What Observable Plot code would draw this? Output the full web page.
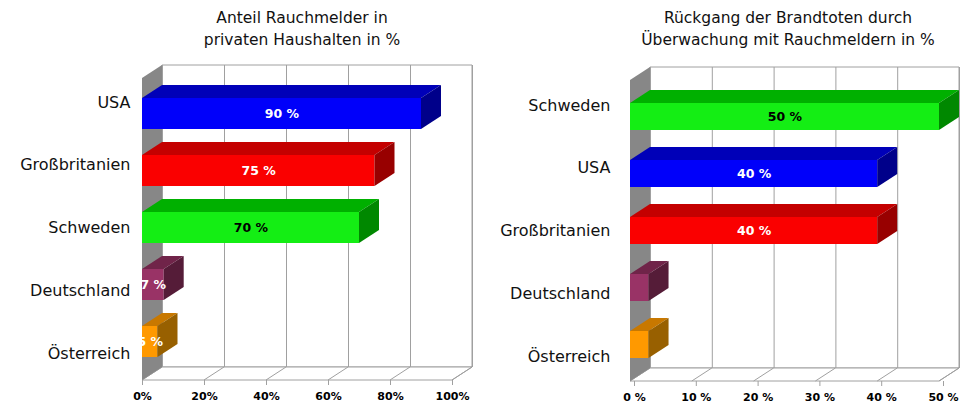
<!DOCTYPE html>
<html>
<head>
<meta charset="utf-8">
<script src="https://cdn.jsdelivr.net/npm/d3@7"></script>
<script src="https://cdn.jsdelivr.net/npm/@observablehq/plot@0.6"></script>
<style>
  body { margin: 0; background: #fff; }
  #wrap { display: flex; width: 962px; height: 407px; overflow: hidden; font-family: "DejaVu Sans", sans-serif; }
  .col { width: 481px; flex: none; }
  .title { height: 52px; box-sizing: border-box; padding-top: 7px; line-height: 22px; font-size: 15.5px; color: #111; text-align: center; white-space: nowrap; }
</style>
</head>
<body>
<div id="wrap">
  <div class="col" id="c1"><div class="title" style="padding-left:123px">Anteil Rauchmelder in<br>privaten Haushalten in %</div></div>
  <div class="col" id="c2"><div class="title" style="padding-left:133px">Rückgang der Brandtoten durch<br>Überwachung mit Rauchmeldern in %</div></div>
</div>
<script>
// ---- data ----
const leftCategories = ["USA", "Großbritanien", "Schweden", "Deutschland", "Österreich"];
const leftValues = [90, 75, 70, 7, 5];
const leftLabels = ["90 %", "75 %", "70 %", "7 %", "5 %"];
const leftTicks = [0, 20, 40, 60, 80, 100];
const leftTickLabels = ["0%", "20%", "40%", "60%", "80%", "100%"];

const rightCategories = ["Schweden", "USA", "Großbritanien", "Deutschland", "Österreich"];
const rightValues = [50, 40, 40, 3, 3];
const rightLabels = ["50 %", "40 %", "40 %", "", ""];
const rightTicks = [0, 10, 20, 30, 40, 50];
const rightTickLabels = ["0 %", "10 %", "20 %", "30 %", "40 %", "50 %"];

// ---- styles ----
const FRONT = {"USA": "#0000fa", "Großbritanien": "#fa0000", "Schweden": "#14ee14", "Deutschland": "#993366", "Österreich": "#ff9900"};
const TOP   = {"USA": "#0000b8", "Großbritanien": "#c40000", "Schweden": "#00b000", "Deutschland": "#702449", "Österreich": "#c87800"};
const SIDE  = {"USA": "#00008a", "Großbritanien": "#980000", "Schweden": "#008800", "Deutschland": "#551c38", "Österreich": "#986000"};
const TEXTC = {"USA": "#fff", "Großbritanien": "#fff", "Schweden": "#000", "Deutschland": "#fff", "Österreich": "#fff"};
const GRID = "#a0a0a0", WALL = "#878787";
const DX = 20, DY = 13;

const NS = "http://www.w3.org/2000/svg";
function poly(pts, fill, stroke) {
  const p = document.createElementNS(NS, "polygon");
  p.setAttribute("points", pts.map(q => q.join(",")).join(" "));
  p.setAttribute("fill", fill);
  if (stroke) { p.setAttribute("stroke", stroke); p.setAttribute("stroke-width", 1); }
  return p;
}
function seg(x1, y1, x2, y2, stroke) {
  const l = document.createElementNS(NS, "line");
  l.setAttribute("x1", x1); l.setAttribute("y1", y1); l.setAttribute("x2", x2); l.setAttribute("y2", y2);
  l.setAttribute("stroke", stroke);
  return l;
}

function chart(cfg) {
  const data = cfg.categories.map((c, i) => ({cat: c, value: cfg.values[i], label: cfg.labels[i]}));
  const xMax = cfg.ticks[cfg.ticks.length - 1];

  // walls + floor, computed from scales
  const scaffold = Plot.frame({
    render(index, scales, values, dim) {
      const g = document.createElementNS(NS, "g");
      const x0 = scales.x(0), x1 = scales.x(xMax);
      const yT = dim.marginTop, yB = dim.height - dim.marginBottom;
      g.append(poly([[x0 + DX, yT - DY], [x1 + DX, yT - DY], [x1 + DX, yB - DY], [x0 + DX, yB - DY]], "#fff", GRID));
      g.append(poly([[x0, yB], [x1, yB], [x1 + DX, yB - DY], [x0 + DX, yB - DY]], "#fff", GRID));
      for (const t of cfg.ticks) g.append(seg(scales.x(t), yB, scales.x(t) + DX, yB - DY, GRID));
      g.append(poly([[x0, yT], [x0 + DX, yT - DY], [x0 + DX, yB - DY], [x0, yB]], WALL));
      return g;
    }
  });

  const bars = Plot.barX(data, {
    x: "value", y: "cat", fill: d => FRONT[d.cat],
    render(index, scales, values, dim, ctx, next) {
      const g = next(index, scales, values, dim, ctx);
      const bw = scales.y.bandwidth();
      for (const i of index) {
        const d = data[i];
        const xa = scales.x(0), xb = scales.x(d.value), ya = scales.y(d.cat), yb = ya + bw;
        g.append(poly([[xa, ya], [xb, ya], [xb + DX, ya - DY], [xa + DX, ya - DY]], TOP[d.cat]));
        g.append(poly([[xb, ya], [xb + DX, ya - DY], [xb + DX, yb - DY], [xb, yb]], SIDE[d.cat]));
      }
      return g;
    }
  });

  const spread = k => (index, scales, values, dim, ctx, next) => {
    const Y = values.y;
    const m = d3.mean(index, i => Y[i]);
    return next(index, scales, {...values, y: Float64Array.from(Y, v => m + (v - m) * k)}, dim, ctx);
  };

  return Plot.plot({
    width: 481, height: 355,
    marginLeft: cfg.m[0], marginRight: cfg.m[1], marginTop: cfg.m[2], marginBottom: cfg.m[3],
    insetTop: cfg.inset[0], insetBottom: cfg.inset[1],
    style: {fontFamily: "DejaVu Sans, sans-serif", background: "#fff", overflow: "visible"},
    x: {domain: [0, xMax]},
    y: {domain: cfg.categories, paddingInner: cfg.pad, paddingOuter: cfg.pad / 2, axis: null},
    color: {type: "identity"},
    marks: [
      scaffold,
      Plot.ruleX(cfg.ticks, {stroke: GRID, dx: DX, dy: -DY}),
      bars,
      Plot.text(data.filter(d => d.label), {x: d => d.value / 2, y: "cat", text: "label", fill: d => TEXTC[d.cat], fontWeight: "bold", fontSize: 12.5}),
      Plot.text(cfg.categories, {y: d => d, text: d => d, frameAnchor: "left", textAnchor: "end", dx: cfg.labelDx, fontSize: 16, fill: "#111", render: spread(1.1)}),
      Plot.axisX(cfg.ticks, {tickSize: 5, tickPadding: 7, tickFormat: d => cfg.tickLabels[cfg.ticks.indexOf(d)], fontWeight: "bold", fontSize: 11, stroke: GRID, fill: "#000", dx: cfg.tickDx, label: null})
    ]
  });
}

document.getElementById("c1").append(chart({
  categories: leftCategories, values: leftValues, labels: leftLabels,
  ticks: leftTicks, tickLabels: leftTickLabels,
  m: [142, 29, 26, 27], inset: [5, 8], pad: 0.46, labelDx: -12, tickDx: 0
}));
document.getElementById("c2").append(chart({
  categories: rightCategories, values: rightValues, labels: rightLabels,
  ticks: rightTicks, tickLabels: rightTickLabels,
  m: [149, 23, 28, 26], inset: [7, 7], pad: 0.53, labelDx: -20, tickDx: 4
}));
</script>
</body>
</html>
